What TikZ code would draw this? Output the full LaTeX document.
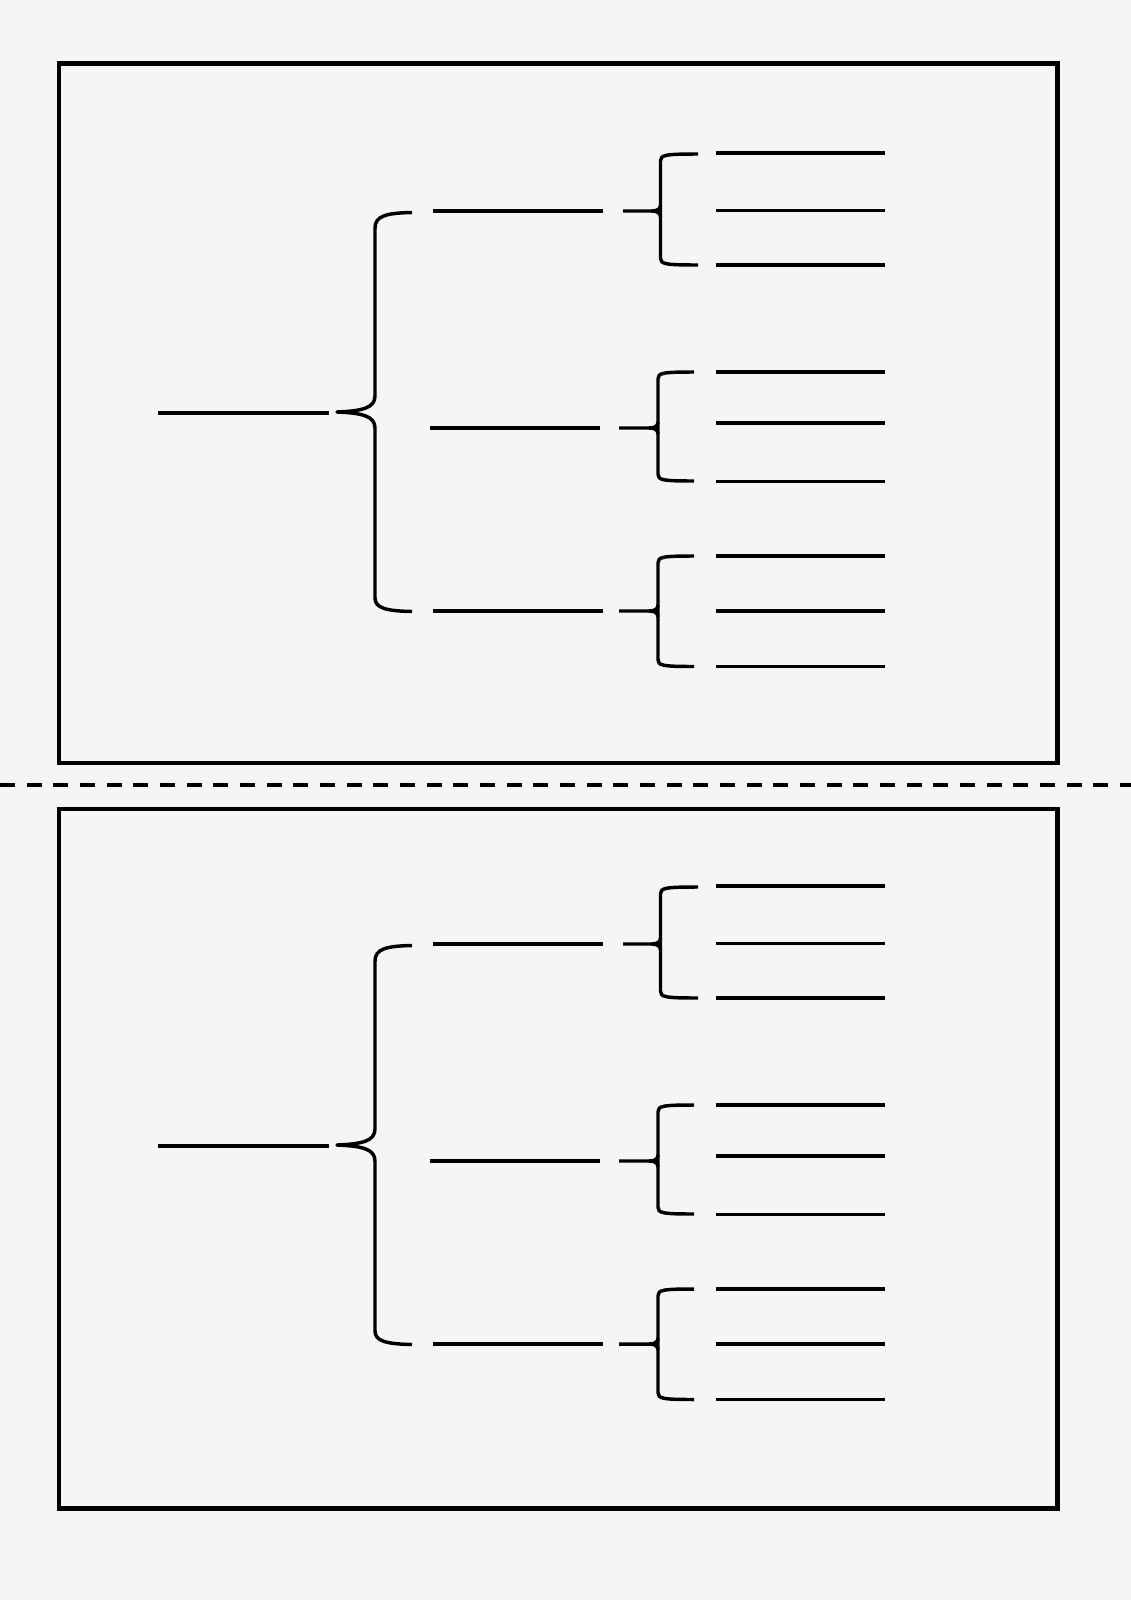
\documentclass[tikz,border=0pt]{standalone}
\definecolor{bg}{RGB}{245,245,245}
\begin{document}
\begin{tikzpicture}[x=0.75pt,y=-0.75pt,
  ln/.style={line width=2.6pt,black},
  boxline/.style={line width=3.2pt,black},
  brc/.style={line width=2.6pt,black,line join=round},
  cutline/.style={line width=2.8pt,black,dash pattern=on 11.25pt off 8.75pt}]
\fill[bg] (0,0) rectangle (1131,1600);
\useasboundingbox (0,0) rectangle (1131,1600);
% frames
\draw[boxline] (59,63.5) rectangle (1057.5,763);
\draw[boxline] (59,809) rectangle (1057.5,1508.5);
% cut line
\coordinate (cutL) at (0,785);
\coordinate (cutR) at (1131,785);
\draw[cutline] (cutL) -- (cutR);
% two identical trees
\foreach \k/\dy in {a/0,b/733}{
 \begin{scope}[shift={(0,\dy)}]
  \coordinate (rootL-\k) at (158,413);
  \coordinate (rootR-\k) at (329,413);
  \draw[ln] (rootL-\k) -- (rootR-\k);
  % big brace
  \draw[brc] (412,212.5) .. controls (386,213) and (375,216) .. (375,228)
     -- (375,396) .. controls (375,408) and (362,411) .. (337,412)
     .. controls (362,413) and (375,416) .. (375,428)
     -- (375,598) .. controls (375,608) and (386,611) .. (412,611.5);
  \foreach \j/\my/\ma/\mb/\sx/\vx/\ty/\by/\ax/\la/\lb/\lc in {
     1/211/433/603/623/660.5/154/265/698/153/210.5/265,
     2/428/430/600/619/658/372/481/694/372/423/481.5,
     3/611/433/603/619/658/556/666.5/694/556/611/666.5}{
    \coordinate (midL-\k\j) at (\ma,\my);
    \coordinate (midR-\k\j) at (\mb,\my);
    \draw[ln] (midL-\k\j) -- (midR-\k\j);
    % small brace
    \draw[brc] (\ax,\ty) .. controls (\vx+4,\ty) and (\vx,\ty+1) .. (\vx,\ty+7)
       -- (\vx,\by-7) .. controls (\vx,\by-1) and (\vx+4,\by) .. (\ax,\by);
    \draw[brc] (\sx,\my) -- (\vx-9,\my) .. controls (\vx-3,\my) and (\vx,\my-2) .. (\vx,\my-6);
    \draw[brc] (\vx-9,\my) .. controls (\vx-3,\my) and (\vx,\my+2) .. (\vx,\my+6);
    % leaves
    \foreach \m/\ly in {1/\la,2/\lb,3/\lc}{
      \coordinate (leafL-\k\j\m) at (716,\ly);
      \coordinate (leafR-\k\j\m) at (885,\ly);
      \draw[ln] (leafL-\k\j\m) -- (leafR-\k\j\m);
    }
  }
 \end{scope}
}
\end{tikzpicture}
\end{document}
